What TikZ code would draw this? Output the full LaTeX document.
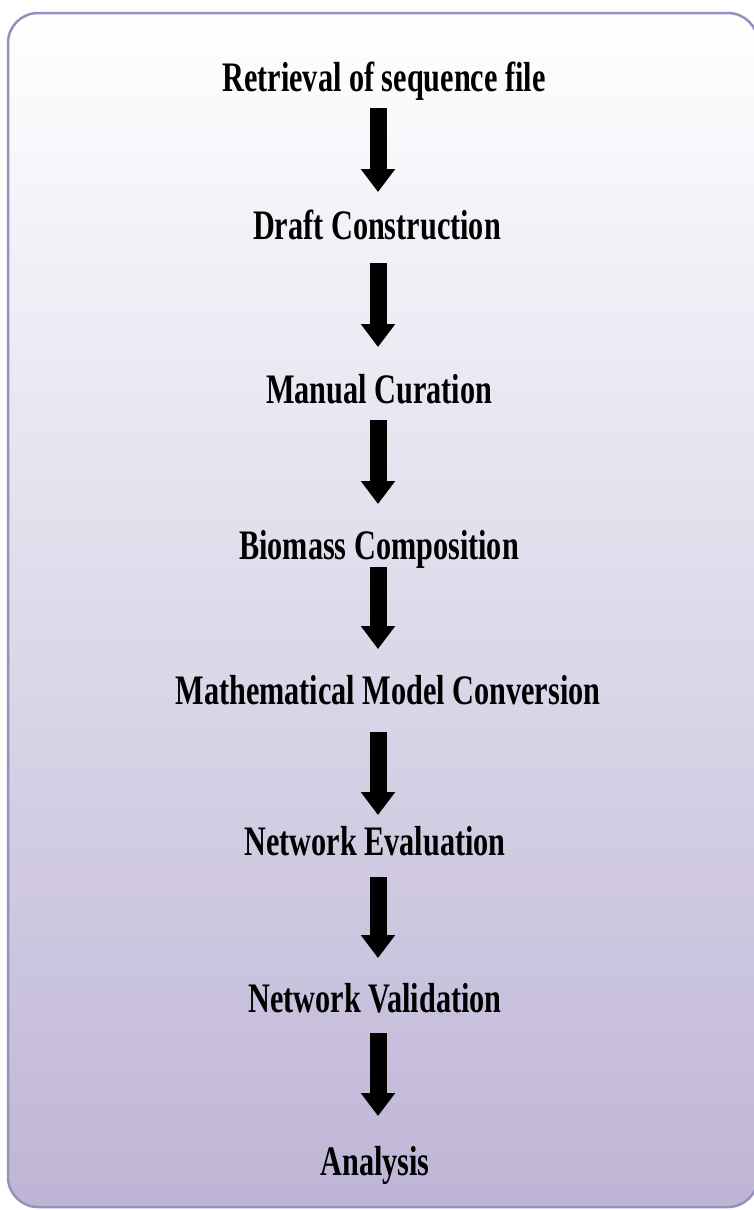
\documentclass[tikz,border=0pt]{standalone}
\usepackage{fontspec}
\setmainfont{Liberation Serif}
\usetikzlibrary{arrows.meta}
\definecolor{lav}{RGB}{190,181,214}
\definecolor{edge}{RGB}{152,143,190}
\tikzset{
  lbl/.style={anchor=base, inner sep=0pt, font=\fontsize{42}{48}\selectfont\bfseries},
  flow/.style={line width=17pt, black, -{Triangle[width=33pt,length=23pt]}}
}
\newcommand{\cnd}[1]{\scalebox{0.72}[1]{#1}}
\begin{document}
\begin{tikzpicture}[x=1pt,y=-1pt]
\useasboundingbox (0,0) rectangle (754,1210);
\clip (0,0) rectangle (754,1210);
\fill[white] (0,0) rectangle (754,1210);
\draw[edge, line width=2.5pt, rounded corners=30pt, top color=white, bottom color=lav]
  (8,13) rectangle (758,1207);
\coordinate (ax) at (378,0);
\node[lbl] (t1) at (384,91) {\cnd{Retrieval of sequence file}};
\node[lbl] (t2) at (377,239) {\cnd{Draft Construction}};
\node[lbl] (t3) at (379,403) {\cnd{Manual Curation}};
\node[lbl] (t4) at (379,559) {\cnd{Biomass Composition}};
\node[lbl] (t5) at (388,704) {\cnd{Mathematical Model Conversion}};
\node[lbl] (t6) at (375,855) {\cnd{Network Evaluation}};
\node[lbl] (t7) at (375,1012) {\cnd{Network Validation}};
\node[lbl] (t8) at (375,1175) {\cnd{Analysis}};
\draw[flow, shorten <=17pt, shorten >=47pt] (t1.base -| ax) -- (t2.base -| ax);
\draw[flow, shorten <=24pt, shorten >=56pt] (t2.base -| ax) -- (t3.base -| ax);
\draw[flow, shorten <=17pt, shorten >=55pt] (t3.base -| ax) -- (t4.base -| ax);
\draw[flow, shorten <=8pt, shorten >=55pt] (t4.base -| ax) -- (t5.base -| ax);
\draw[flow, shorten <=28pt, shorten >=40pt] (t5.base -| ax) -- (t6.base -| ax);
\draw[flow, shorten <=22pt, shorten >=54pt] (t6.base -| ax) -- (t7.base -| ax);
\draw[flow, shorten <=21pt, shorten >=59pt] (t7.base -| ax) -- (t8.base -| ax);
\end{tikzpicture}
\end{document}
